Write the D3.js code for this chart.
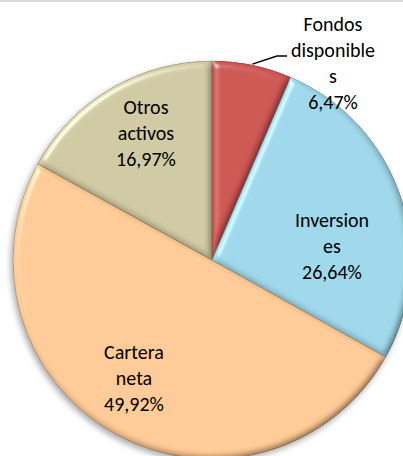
<!DOCTYPE html>
<html><head><meta charset="utf-8">
<script src="https://cdn.jsdelivr.net/npm/d3@7"></script>
<style>html,body{margin:0;padding:0;background:#fff;}svg{display:block;}</style>
</head><body>
<script>
const categories = ["Fondos disponibles", "Inversiones", "Cartera neta", "Otros activos"];
const values = [6.47, 26.64, 49.92, 16.97];
const labelLines = [["Fondos","disponible","s","6,47%"],["Inversion","es","26,64%"],["Cartera","neta","49,92%"],["Otros","activos","16,97%"]];
const colors = ["#CD5653", "#9FD8EA", "#FFCA96", "#CFCAA3"];
const strokes = ["#8a3331", "#5e97a8", "#b88a5c", "#8f8a66"];

const W = 403, H = 456;
const cx = 212, cy = 260, R = 199;
// label anchor (center of text block) relative to pie center
const labelOffsets = [[121,-197],[120,-14],[-78,118],[-66,-127]];
const lineH = 26;

const svg = d3.select("body").append("svg").attr("width", W).attr("height", H);
const defs = svg.append("defs");
const f = defs.append("filter").attr("id","bevel").attr("x","-10%").attr("y","-10%").attr("width","120%").attr("height","120%");
f.append("feGaussianBlur").attr("in","SourceAlpha").attr("stdDeviation",3.5).attr("result","blur");
const dl = f.append("feDiffuseLighting").attr("in","blur").attr("surfaceScale",4).attr("diffuseConstant",1.1547).attr("lighting-color","#fff").attr("result","diff");
dl.append("feDistantLight").attr("azimuth",225).attr("elevation",60);
const sl = f.append("feSpecularLighting").attr("in","blur").attr("surfaceScale",4).attr("specularConstant",0.8).attr("specularExponent",40).attr("lighting-color","#fff").attr("result","spec");
sl.append("feDistantLight").attr("azimuth",225).attr("elevation",40);
f.append("feComposite").attr("in","SourceGraphic").attr("in2","diff").attr("operator","arithmetic").attr("k1",1).attr("k2",0).attr("k3",0).attr("k4",0).attr("result","shaded");
f.append("feComposite").attr("in","spec").attr("in2","SourceAlpha").attr("operator","in").attr("result","specIn");
f.append("feComposite").attr("in","shaded").attr("in2","specIn").attr("operator","arithmetic").attr("k1",0).attr("k2",1).attr("k3",0.6).attr("k4",0).attr("result","lit");
f.append("feComposite").attr("in","lit").attr("in2","SourceAlpha").attr("operator","in");

const sh = defs.append("filter").attr("id","shadow").attr("x","-10%").attr("y","-10%").attr("width","120%").attr("height","120%");
sh.append("feGaussianBlur").attr("in","SourceAlpha").attr("stdDeviation",3).attr("result","b");
sh.append("feOffset").attr("in","b").attr("dx",-2).attr("dy",3).attr("result","o");
sh.append("feComponentTransfer").attr("in","o").append("feFuncA").attr("type","linear").attr("slope",0.35);

// top frame line
svg.append("rect").attr("x",0).attr("y",0).attr("width",W).attr("height",2).attr("fill","#d9d9d9");

const pie = d3.pie().sort(null).value(d => d)(values);
const arc = d3.arc().innerRadius(0).outerRadius(R);
const g = svg.append("g").attr("transform",`translate(${cx},${cy})`);

g.append("circle").attr("r",R).attr("fill","#000").attr("filter","url(#shadow)");

g.selectAll("path.slice").data(pie).join("path")
  .attr("class","slice")
  .attr("d", arc)
  .attr("fill",(d,i)=>colors[i])
  .attr("stroke",(d,i)=>strokes[i])
  .attr("stroke-width",0.8)
  .attr("filter","url(#bevel)");

// leader line for first slice
const mid0 = (pie[0].startAngle + pie[0].endAngle)/2;
const p0 = [Math.sin(mid0)*(R+1), -Math.cos(mid0)*(R+1)];
g.append("polyline")
  .attr("points", [p0, [65,-204], [75,-204]].map(p=>p.join(",")).join(" "))
  .attr("fill","none").attr("stroke","#000").attr("stroke-width",1.5);

const lab = g.selectAll("text.lab").data(pie).join("text")
  .attr("class","lab")
  .attr("text-anchor","middle")
  .attr("font-family","Carlito, Lato, 'Open Sans', sans-serif")
  .attr("font-size",20)
  .attr("font-weight",400)
  .attr("fill","#000");
lab.each(function(d,i){
  const lines = labelLines[i];
  const [ox, oy] = labelOffsets[i];
  const top = oy - (lines.length-1)*lineH/2;
  d3.select(this).selectAll("tspan").data(lines).join("tspan")
    .attr("x", ox).attr("y",(t,j)=> top + j*lineH).attr("dy","0.35em").text(t=>t);
});
</script>
</body></html>
